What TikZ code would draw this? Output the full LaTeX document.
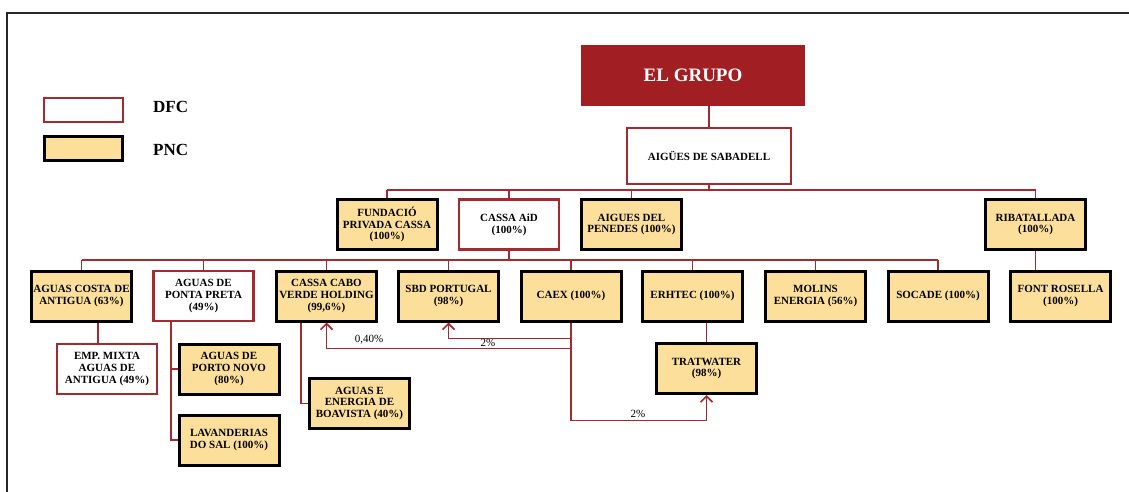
\documentclass[tikz,border=0pt]{standalone}
\usepackage{fontspec}
\setmainfont{Liberation Serif}
\usetikzlibrary{arrows.meta}
\definecolor{grpred}{HTML}{A11E22}
\definecolor{linered}{HTML}{A52A2F}
\definecolor{tan}{HTML}{FDDF9C}
\tikzset{
  boxtext/.style={align=center, font=\bfseries\fontsize{11}{11.8}\selectfont, inner sep=0.5pt},
  pnc/.style={boxtext, draw=black, line width=3pt, fill=tan, minimum width=100pt, minimum height=50pt},
  dfc/.style={boxtext, draw=linered, line width=2.8pt, fill=white, minimum width=100pt, minimum height=50pt},
  conn/.style={draw=linered, line width=1.8pt},
  arr/.style={conn, -{Straight Barb[length=6pt,width=12pt,line width=1.6pt]}},
  pct/.style={font=\fontsize{11}{12}\selectfont, inner sep=1pt},
}
\begin{document}
\begin{tikzpicture}[x=1pt,y=-1pt]
\useasboundingbox (0,0) rectangle (1129,492);
% frame
\draw[line width=1.6pt, black!85] (7,492) -- (7,13) -- (1129,13);
% legend
\node[dfc, minimum width=79pt, minimum height=24pt] (legdfc) at (83.5,110) {};
\node[pnc, minimum width=78pt, minimum height=24pt] (legpnc) at (83.5,148.5) {};
\node[anchor=west, font=\bfseries\fontsize{17}{18}\selectfont, inner sep=0pt] (tdfc) at (153,107) {DFC};
\node[anchor=west, font=\bfseries\fontsize{17}{18}\selectfont, inner sep=0pt] (tpnc) at (153,150) {PNC};
% top
\node[fill=grpred, text=white, font=\bfseries\fontsize{19}{20}\selectfont, minimum width=224pt, minimum height=61pt, inner sep=0pt] (grupo) at (693,75.5) {EL GRUPO};
\node[dfc, minimum width=164pt, minimum height=56pt] (aigues) at (709,156) {AIGÜES DE SABADELL};
% row 2
\node[pnc] (fund) at (387,224.5) {FUNDACIÓ\\PRIVADA CASSA\\(100\%)};
\node[dfc] (cassa) at (509,224.5) {CASSA AiD\\(100\%)};
\node[pnc] (pened) at (631.5,224.5) {AIGUES DEL\\PENEDES (100\%)};
\node[pnc] (riba) at (1035.5,224.5) {RIBATALLADA\\(100\%)};
% row 3
\node[pnc] (costa) at (81.5,296) {AGUAS COSTA DE\\ANTIGUA (63\%)};
\node[dfc] (ponta) at (203.5,296) {AGUAS DE\\PONTA PRETA\\(49\%)};
\node[pnc] (ccv) at (326.5,296) {CASSA CABO\\VERDE HOLDING\\(99,6\%)};
\node[pnc] (sbd) at (448.5,296) {SBD PORTUGAL\\(98\%)};
\node[pnc] (caex) at (571,296) {CAEX (100\%)};
\node[pnc] (erhtec) at (692.5,296) {ERHTEC (100\%)};
\node[pnc] (molins) at (815.5,296) {MOLINS\\ENERGIA (56\%)};
\node[pnc] (socade) at (938,296) {SOCADE (100\%)};
\node[pnc] (font) at (1060.5,296) {FONT ROSELLA\\(100\%)};
% row 4
\node[dfc] (emp) at (107,369) {EMP. MIXTA\\AGUAS DE\\ANTIGUA (49\%)};
\node[pnc] (porto) at (229,369) {AGUAS DE\\PORTO NOVO\\(80\%)};
\node[pnc] (lav) at (229,440) {LAVANDERIAS\\DO SAL (100\%)};
\node[pnc] (boa) at (359.5,403.5) {AGUAS E\\ENERGIA DE\\BOAVISTA (40\%)};
\node[pnc] (trat) at (706.5,368.5) {TRATWATER\\(98\%)};
% buses
\coordinate (b1) at (0,190);
\coordinate (b2) at (0,260);
\draw[conn] (aigues.north) -- (aigues.north |- grupo.south);
\draw[conn] (aigues.south) -- (aigues.south |- b1);
\draw[conn] (fund.north |- b1) -- (riba.north |- b1);
\foreach \n in {fund,cassa,pened,riba} \draw[conn] (\n.north) -- (\n.north |- b1);
\draw[conn] (cassa.south) -- (cassa.south |- b2);
\draw[conn] (costa.north |- b2) -- (socade.north |- b2);
\foreach \n in {costa,ponta,ccv,sbd,caex,erhtec,molins,socade} \draw[conn] (\n.north) -- (\n.north |- b2);
\draw[conn] (riba.south) -- (riba.south |- font.north);
\draw[conn] ([xshift=-9pt]emp.north) -- ([xshift=-9pt]emp.north |- costa.south);
\draw[conn] ([xshift=-32.5pt]ponta.south) |- (lav.west);
\draw[conn] (porto.west) -| ([xshift=-32.5pt]ponta.south);
\draw[conn] ([xshift=-25.5pt]ccv.south) |- (boa.west);
\draw[conn] (trat.north) -- (trat.north |- erhtec.south);
% CAEX participations
\draw[conn] (caex.south) -- ([yshift=-98pt]caex.south);
\draw[arr] ([yshift=-98pt]caex.south) -| (trat.south);
\draw[arr] ([yshift=-16pt]caex.south) -| (sbd.south);
\draw[arr] ([yshift=-26pt]caex.south) -| (ccv.south);
\node[pct] (p1) at (369,340) {0,40\%};
\node[pct] (p2) at (488,343) {2\%};
\node[pct] (p3) at (638,414) {2\%};
\end{tikzpicture}
\end{document}
